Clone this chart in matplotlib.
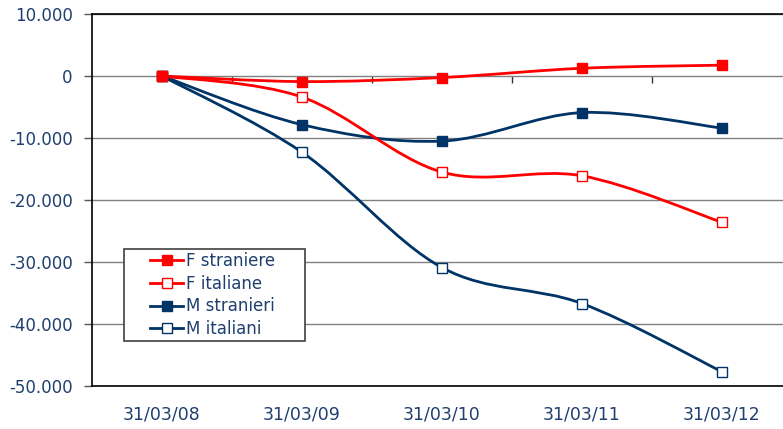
import numpy as np
import matplotlib.pyplot as plt
from matplotlib.path import Path
from matplotlib.patches import PathPatch, Rectangle
from matplotlib.lines import Line2D

date = ["31/03/08", "31/03/09", "31/03/10", "31/03/11", "31/03/12"]
f_straniere = [0, -900, -250, 1250, 1750]
f_italiane = [0, -3400, -15500, -16100, -23600]
m_stranieri = [0, -7850, -10500, -5900, -8400]
m_italiani = [0, -12300, -30900, -36700, -47700]

rosso = "#FF0000"
blu = "#003366"
testo = "#1F3F6F"

# curva morbida tipo excel (bezier fra i punti)
def curva(xs, ys):
    pts = np.column_stack([xs, ys]).astype(float)
    n = len(pts)
    verts = [pts[0]]
    codes = [Path.MOVETO]
    for i in range(n - 1):
        p0 = pts[max(i - 1, 0)]
        p1 = pts[i]
        p2 = pts[i + 1]
        p3 = pts[min(i + 2, n - 1)]
        c1 = p1 + (p2 - p0) / 6
        c2 = p2 - (p3 - p1) / 6
        verts += [c1, c2, p2]
        codes += [Path.CURVE4] * 3
    return Path(verts, codes)

fig = plt.figure(figsize=(7.83, 4.29), dpi=100)
ax = fig.add_axes([92 / 783, 43 / 429, 700 / 783, 372 / 429])

x = np.arange(len(date))
serie = [
    ("F straniere", f_straniere, rosso, rosso),
    ("F italiane", f_italiane, rosso, "white"),
    ("M stranieri", m_stranieri, blu, blu),
    ("M italiani", m_italiani, blu, "white"),
]

handles = []
for nome, ys, col, fc in serie[::-1]:
    ax.add_patch(PathPatch(curva(x, ys), facecolor="none", edgecolor=col, lw=2.0, zorder=3))
    ax.plot(x, ys, ls="none", marker="s", ms=6.5, mfc=fc, mec=col, mew=1.0, zorder=4)
for nome, ys, col, fc in serie:
    handles.append(Line2D([], [], color=col, lw=2.0, marker="s", ms=6.5, mfc=fc, mec=col, mew=1.0, label=nome))

ax.set_xlim(-0.5, 4.5)
ax.set_ylim(-50000, 10000)
ax.set_yticks(range(-50000, 10001, 10000))
ax.set_yticklabels([f"{v:,}".replace(",", ".") for v in range(-50000, 10001, 10000)])
ax.set_xticks(x)
ax.set_xticklabels(date)
ax.tick_params(axis="x", length=0, pad=14, labelsize=12.5, labelcolor=testo)
ax.tick_params(axis="y", length=6, width=1, color="#555555", pad=8, labelsize=12, labelcolor=testo)
ax.grid(axis="y", color="#808080", lw=1)
ax.set_axisbelow(True)
for s in ["left", "bottom", "top"]:
    ax.spines[s].set_color("black")
    ax.spines[s].set_linewidth(1.2)
ax.spines["right"].set_visible(False)

# asse delle categorie sullo zero
asse0 = ax.secondary_xaxis(50000 / 60000)
asse0.set_xticks([0.5, 1.5, 2.5, 3.5])
asse0.set_xticklabels([])
asse0.xaxis.set_ticks_position("bottom")
asse0.tick_params(direction="out", length=5, width=1, color="#333333")
for s in asse0.spines.values():
    s.set_visible(False)

# legenda con cornice fissa come in excel
fig.patches.append(Rectangle((124 / 783, 1 - 341 / 429), 181 / 783, 92 / 429,
                             transform=fig.transFigure, facecolor="white",
                             edgecolor="#404040", lw=1.2, zorder=5))
leg = fig.legend(handles=handles, loc="upper left",
                 bbox_to_anchor=(150 / 783, 1 - 252 / 429), fontsize=12,
                 frameon=False, borderpad=0, labelspacing=0.28,
                 handlelength=2.0, handletextpad=0.15, borderaxespad=0)
leg.set_zorder(6)
for t in leg.get_texts():
    t.set_color(testo)

fig.savefig("out.png", dpi=100)
